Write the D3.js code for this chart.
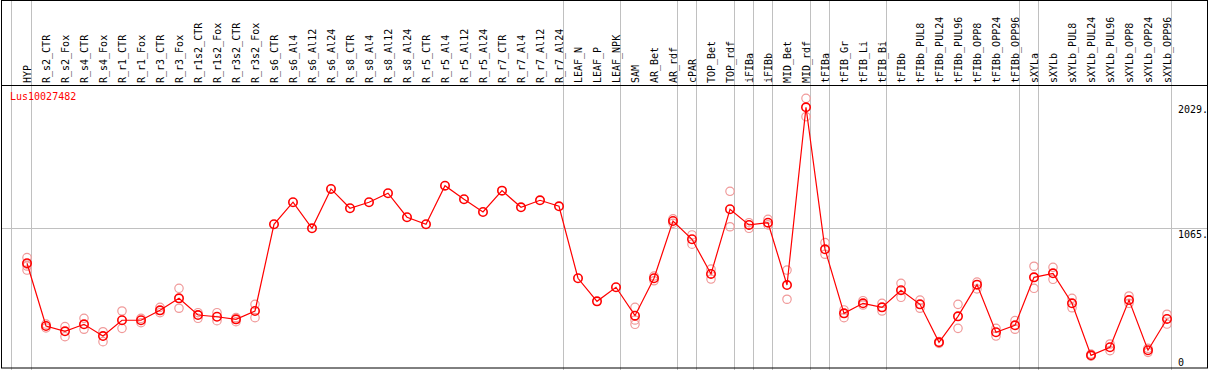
<!DOCTYPE html>
<html lang="en">
<head>
  <meta charset="UTF-8">
  <title>Lus10027482 expression</title>
  <style type="text/css">
    body { margin: 0; background: #fff; }
    svg { display: block; }
    text { font-family: "DejaVu Sans Mono", monospace; font-size: 10px; }
  </style>
  <script src="https://cdn.jsdelivr.net/npm/d3@7/dist/d3.min.js"></script>
</head>
<body>
<div class="main"></div>
<script>
  // gene name
  var geneName = "Lus10027482";

  // sample names (one column each)
  var samples = ["HYP", "R_s2_CTR", "R_s2_Fox", "R_s4_CTR", "R_s4_Fox", "R_r1_CTR", "R_r1_Fox",
    "R_r3_CTR", "R_r3_Fox", "R_r1s2_CTR", "R_r1s2_Fox", "R_r3s2_CTR", "R_r3s2_Fox",
    "R_s6_CTR", "R_s6_Al4", "R_s6_Al12", "R_s6_Al24", "R_s8_CTR", "R_s8_Al4", "R_s8_Al12", "R_s8_Al24",
    "R_r5_CTR", "R_r5_Al4", "R_r5_Al12", "R_r5_Al24", "R_r7_CTR", "R_r7_Al4", "R_r7_Al12", "R_r7_Al24",
    "LEAF_N", "LEAF_P", "LEAF_NPK", "SAM", "AR_Bet", "AR_rdf", "cPAR", "TOP_Bet", "TOP_rdf",
    "iFIBa", "iFIBb", "MID_Bet", "MID_rdf", "tFIBa", "tFIB_Gr", "tFIB_Li", "tFIB_Bi",
    "tFIBb", "tFIBb_PUL8", "tFIBb_PUL24", "tFIBb_PUL96", "tFIBb_OPP8", "tFIBb_OPP24", "tFIBb_OPP96",
    "sXYLa", "sXYLb", "sXYLb_PUL8", "sXYLb_PUL24", "sXYLb_PUL96", "sXYLb_OPP8", "sXYLb_OPP24", "sXYLb_OPP96"];

  // mean expression per sample
  var means = [797, 316, 275, 329, 239, 360, 360, 436, 528, 400, 387, 367, 431,
    1096, 1265, 1065, 1367, 1219, 1265, 1334, 1150,
    1096, 1392, 1288, 1190, 1354, 1226, 1280, 1234,
    682, 505, 613, 395, 682, 1121, 981, 715, 1211,
    1091, 1108, 630, 1993, 904, 413, 490, 459,
    590, 482, 191, 390, 633, 268, 321,
    689, 720, 490, 91, 153, 515, 130, 370];

  // individual replicates per sample
  var replicates = [[841, 790, 776, 745], [331, 301], [311, 234], [375, 291], [272, 196], [431, 298], [375, 341],
    [459, 418], [605, 452], [418, 375], [418, 357], [380, 349], [482, 380],
    [], [], [], [], [], [], [], [],
    [], [], [], [], [], [], [], [],
    [], [], [], [459, 362, 329], [699, 663], [1137, 1104], [1014, 943], [752, 676], [1349, 1077],
    [1108, 1065], [1134, 1091], [745, 521], [2062, 1921], [955, 866], [439, 380], [510, 477], [490, 431],
    [643, 536], [515, 452], [196, 183], [482, 298], [653, 600], [298, 239], [357, 291],
    [774, 605], [766, 674], [528, 456], [101, 85], [178, 127], [546, 490], [145, 114], [406, 331]];

  // groups end after these columns
  var groupEnds = ["HYP", "R_r7_Al24", "LEAF_NPK", "AR_rdf", "cPAR", "TOP_rdf", "iFIBa", "iFIBb",
    "MID_rdf", "tFIBa", "tFIB_Bi", "tFIBb_OPP96", "sXYLa", "sXYLb_OPP96"];

  // right axis
  var tickValues = [0, 1065, 2029];
  var tickLabels = ["0", "1065.", "2029."];
  var gridTicks = [1065];

  var W = 1209, H = 370, headerH = 85;

  var svg = d3.select(".main").append("svg")
    .attr("width", W)
    .attr("height", H);

  var x = d3.scalePoint().domain(samples).range([27, 1167]);
  var y = d3.scaleLinear().domain([0, 2029]).range([367.2, 102.6]);

  // vertical separators (full height)
  svg.append("line")
    .attr("x1", 11.5).attr("x2", 11.5).attr("y1", 0).attr("y2", H)
    .attr("stroke", "#c0c0c0");
  svg.selectAll("line.sep")
      .data(groupEnds)
    .enter().append("line")
      .attr("class", "sep")
      .attr("x1", function(d) { return Math.round(x(d) + 3.5) + 0.5; })
      .attr("x2", function(d) { return Math.round(x(d) + 3.5) + 0.5; })
      .attr("y1", 0).attr("y2", H)
      .attr("stroke", "#c0c0c0");

  // horizontal grid
  svg.selectAll("line.grid")
      .data(gridTicks)
    .enter().append("line")
      .attr("class", "grid")
      .attr("x1", 1).attr("x2", W - 1)
      .attr("y1", function(d) { return Math.round(y(d)) + 0.5; })
      .attr("y2", function(d) { return Math.round(y(d)) + 0.5; })
      .attr("stroke", "#c0c0c0");

  // frame + header separator
  svg.append("rect")
    .attr("x", 1.5).attr("y", 0.5).attr("width", W - 3).attr("height", H - 2.5)
    .attr("fill", "none").attr("stroke", "#000");
  svg.append("line")
    .attr("x1", 1).attr("x2", W - 1).attr("y1", headerH + 0.5).attr("y2", headerH + 0.5)
    .attr("stroke", "#000");

  // sample labels, rotated
  svg.selectAll("text.lab")
      .data(samples)
    .enter().append("text")
      .attr("class", "lab")
      .attr("transform", function(d) { return "translate(" + (x(d) + 3.5) + "," + 83 + ") rotate(-90)"; })
      .attr("fill", "#000")
      .text(function(d) { return d; });

  // right axis labels
  var yAxis = d3.axisRight(y).tickValues(tickValues)
    .tickFormat(function(d, i) { return tickLabels[i]; })
    .tickSize(0).tickPadding(0);
  var ax = svg.append("g")
    .attr("transform", "translate(1178,0)")
    .call(yAxis);
  ax.select(".domain").remove();
  ax.selectAll("text")
    .attr("font-family", "DejaVu Sans Mono, monospace")
    .attr("font-size", 10)
    .attr("dy", "0.95em")
    .attr("y", function(d) { return d === 0 ? -11 : 0; });

  // gene name
  svg.append("text")
    .attr("x", 10).attr("y", 100)
    .attr("fill", "#f00")
    .text(geneName);

  // replicate points
  var reps = [];
  samples.forEach(function(s, i) {
    replicates[i].forEach(function(v) { reps.push({s: s, v: v}); });
  });
  svg.selectAll("circle.rep")
      .data(reps)
    .enter().append("circle")
      .attr("class", "rep")
      .attr("cx", function(d) { return x(d.s); })
      .attr("cy", function(d) { return y(d.v); })
      .attr("r", 4.2)
      .attr("fill", "none")
      .attr("stroke", "#f09a9a")
      .attr("stroke-width", 1.2);

  // mean line
  var line = d3.line()
    .x(function(d, i) { return x(samples[i]); })
    .y(function(d) { return y(d); });
  svg.append("path")
    .datum(means)
    .attr("d", line)
    .attr("fill", "none")
    .attr("stroke", "#f00")
    .attr("stroke-width", 1.2);

  // mean points
  svg.selectAll("circle.mean")
      .data(means)
    .enter().append("circle")
      .attr("class", "mean")
      .attr("cx", function(d, i) { return x(samples[i]); })
      .attr("cy", function(d) { return y(d); })
      .attr("r", 4.2)
      .attr("fill", "none")
      .attr("stroke", "#f00")
      .attr("stroke-width", 1.6);
</script>
</body>
</html>
